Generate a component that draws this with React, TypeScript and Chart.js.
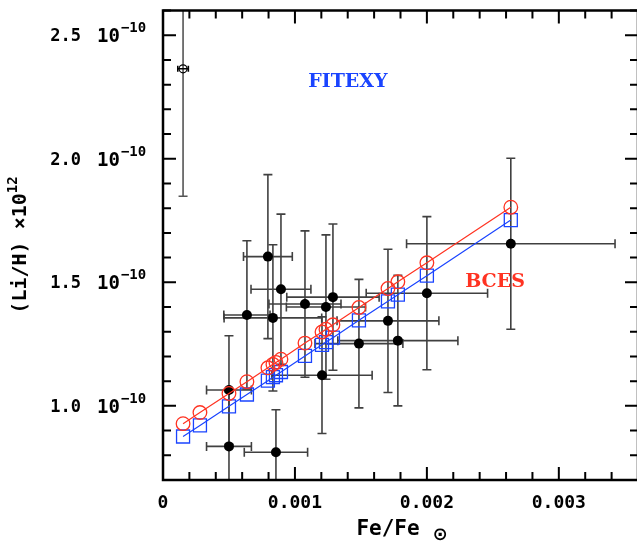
import React, { useEffect, useRef } from "react";
import { Chart, registerables } from "chart.js";

Chart.register(...registerables);

// Observed stars: Fe/Fe(sun) and Li/H (in units of 1e-10)
const feX = [0.0005, 0.0005, 0.000636, 0.000795, 0.000833, 0.000856, 0.000894, 0.001076, 0.001205, 0.001235, 0.001288, 0.001485, 0.001705, 0.00178, 0.002, 0.002636];
const feErr = [0.00017, 0.00017, 0.000175, 0.000185, 0.00037, 0.00024, 0.000227, 0.000273, 0.00038, 0.0003, 0.00035, 0.000333, 0.000386, 0.000455, 0.00046, 0.00079];
const liY = [0.836, 1.064, 1.368, 1.604, 1.356, 0.812, 1.472, 1.412, 1.124, 1.4, 1.44, 1.252, 1.344, 1.264, 1.456, 1.656];
const liErr = [0.22, 0.22, 0.3, 0.332, 0.296, 0.172, 0.304, 0.296, 0.236, 0.292, 0.296, 0.26, 0.29, 0.264, 0.31, 0.346];

// Outlier (open circle)
const outX = [0.000152];
const outXErr = [0.00004];
const outY = [2.364];
const outYErr = [0.516];

// Fitted values
const fitX = [0.000152, 0.00028, 0.0005, 0.000636, 0.000795, 0.000833, 0.000856, 0.000894, 0.001076, 0.001205, 0.001235, 0.001288, 0.001485, 0.001705, 0.00178, 0.002, 0.002636];
const bcesY = [0.928, 0.973, 1.05, 1.098, 1.154, 1.168, 1.176, 1.189, 1.254, 1.299, 1.31, 1.328, 1.398, 1.475, 1.502, 1.579, 1.804];
const fitexyY = [0.876, 0.921, 0.998, 1.046, 1.102, 1.116, 1.124, 1.137, 1.202, 1.247, 1.258, 1.276, 1.346, 1.423, 1.45, 1.527, 1.752];

// Axes
const xMajor = [0, 0.001, 0.002, 0.003];
const xMajorLabels = ["0", "0.001", "0.002", "0.003"];
const yMajor = [1.0, 1.5, 2.0, 2.5];
const yMajorLabels = ["1.0", "1.5", "2.0", "2.5"];
const X_MIN = 0, X_MAX = 0.0036, X_MINOR = 0.0002;
const Y_MIN = 0.7, Y_MAX = 2.6, Y_MINOR = 0.1;

const RED = "#ff3322";
const BLUE = "#1a44ff";
const MONO = '"DejaVu Sans Mono", "Liberation Mono", monospace';
const SERIF = '"DejaVu Serif", "Liberation Serif", serif';

const decor = {
  id: "decor",
  beforeDatasetsDraw(chart: any) {
    const { ctx, chartArea: a, scales } = chart;
    const x = scales.x, y = scales.y;
    ctx.save();
    ctx.beginPath();
    ctx.rect(a.left, a.top, a.right - a.left, a.bottom - a.top);
    ctx.clip();
    const cap = 4.5;
    const bar = (px: number, py: number, xl: number, xh: number, yl: number, yh: number, c: number) => {
      ctx.beginPath();
      ctx.moveTo(px, yl); ctx.lineTo(px, yh);
      ctx.moveTo(px - c, yl); ctx.lineTo(px + c, yl);
      ctx.moveTo(px - c, yh); ctx.lineTo(px + c, yh);
      ctx.moveTo(xl, py); ctx.lineTo(xh, py);
      ctx.moveTo(xl, py - c); ctx.lineTo(xl, py + c);
      ctx.moveTo(xh, py - c); ctx.lineTo(xh, py + c);
      ctx.stroke();
    };
    ctx.strokeStyle = "#404040";
    ctx.lineWidth = 1.6;
    for (let i = 0; i < feX.length; i++) {
      bar(
        x.getPixelForValue(feX[i]), y.getPixelForValue(liY[i]),
        x.getPixelForValue(feX[i] - feErr[i]), x.getPixelForValue(feX[i] + feErr[i]),
        y.getPixelForValue(liY[i] - liErr[i]), y.getPixelForValue(liY[i] + liErr[i]), cap
      );
    }
    for (let i = 0; i < outX.length; i++) {
      const px = x.getPixelForValue(outX[i]), py = y.getPixelForValue(outY[i]);
      ctx.strokeStyle = "#555";
      ctx.beginPath();
      ctx.moveTo(px, y.getPixelForValue(outY[i] - outYErr[i]));
      ctx.lineTo(px, y.getPixelForValue(outY[i] + outYErr[i]));
      const yl = y.getPixelForValue(outY[i] - outYErr[i]);
      ctx.moveTo(px - cap, yl); ctx.lineTo(px + cap, yl);
      ctx.stroke();
      ctx.strokeStyle = "#000";
      const xl = x.getPixelForValue(outX[i] - outXErr[i]), xh = x.getPixelForValue(outX[i] + outXErr[i]);
      ctx.beginPath();
      ctx.moveTo(xl, py); ctx.lineTo(xh, py);
      ctx.moveTo(xl, py - 3); ctx.lineTo(xl, py + 3);
      ctx.moveTo(xh, py - 3); ctx.lineTo(xh, py + 3);
      ctx.stroke();
    }
    ctx.restore();
  },
  afterDraw(chart: any) {
    const { ctx, chartArea: a, scales } = chart;
    const x = scales.x, y = scales.y;
    ctx.save();
    ctx.strokeStyle = "#000";
    ctx.lineCap = "butt";
    // ticks
    ctx.lineWidth = 2;
    const nx = Math.round((X_MAX - X_MIN) / X_MINOR);
    for (let i = 0; i <= nx; i++) {
      const v = X_MIN + i * X_MINOR;
      const px = x.getPixelForValue(v);
      const L = i % 5 === 0 ? 13 : 8;
      ctx.beginPath();
      ctx.moveTo(px, a.bottom); ctx.lineTo(px, a.bottom - L);
      ctx.moveTo(px, a.top); ctx.lineTo(px, a.top + L);
      ctx.stroke();
    }
    const ny = Math.round((Y_MAX - Y_MIN) / Y_MINOR);
    for (let i = 0; i <= ny; i++) {
      const v = Y_MIN + i * Y_MINOR;
      const py = y.getPixelForValue(v);
      const major = Math.abs(v * 2 - Math.round(v * 2)) < 1e-6;
      const L = major ? 13 : 8;
      ctx.beginPath();
      ctx.moveTo(a.left, py); ctx.lineTo(a.left + L, py);
      ctx.moveTo(a.right, py); ctx.lineTo(a.right - L, py);
      ctx.stroke();
    }
    // frame
    ctx.lineWidth = 2.5;
    ctx.strokeRect(a.left, a.top, a.right - a.left, a.bottom - a.top);

    // x tick labels
    ctx.fillStyle = "#000";
    ctx.font = `bold 18px ${MONO}`;
    ctx.textAlign = "center";
    ctx.textBaseline = "alphabetic";
    xMajor.forEach((v, i) => {
      ctx.fillText(xMajorLabels[i], x.getPixelForValue(v), 508);
    });
    // y tick labels
    yMajor.forEach((v, i) => {
      const py = y.getPixelForValue(v);
      ctx.font = `bold 17px ${MONO}`;
      ctx.textAlign = "right";
      ctx.fillText(yMajorLabels[i], 81, py + 6);
      ctx.textAlign = "left";
      ctx.font = `bold 19px ${MONO}`;
      ctx.fillText("10", 97, py + 7);
      const w = ctx.measureText("10").width;
      ctx.font = `bold 14px ${MONO}`;
      ctx.fillText("\u221210", 97 + w + 1, py - 3);
    });
    // axis titles
    ctx.font = `bold 21px ${MONO}`;
    ctx.textAlign = "left";
    const t1 = "Fe/Fe";
    const w1 = ctx.measureText(t1).width;
    ctx.fillText(t1, 388 - w1 / 2, 535);
    ctx.font = `bold 18px "DejaVu Sans", sans-serif`;
    ctx.textAlign = "center";
    ctx.fillText("\u2299", 440, 540);

    ctx.save();
    ctx.translate(26, 245);
    ctx.rotate(-Math.PI / 2);
    ctx.font = `bold 20px ${MONO}`;
    const m1 = "(Li/H) \u00d710";
    const mw = ctx.measureText(m1).width;
    ctx.font = `bold 14px ${MONO}`;
    const sw = ctx.measureText("12").width;
    const total = mw + sw;
    ctx.textAlign = "left";
    ctx.font = `bold 20px ${MONO}`;
    ctx.fillText(m1, -total / 2, 0);
    ctx.font = `bold 14px ${MONO}`;
    ctx.fillText("12", -total / 2 + mw, -9);
    ctx.restore();

    // annotations
    ctx.font = `bold 19px ${SERIF}`;
    ctx.textAlign = "center";
    ctx.fillStyle = BLUE;
    ctx.fillText("FITEXY", 348, 87);
    ctx.fillStyle = RED;
    ctx.fillText("BCES", 495, 287);
    ctx.restore();
  },
};

export default function App() {
  const ref = useRef<HTMLCanvasElement | null>(null);
  useEffect(() => {
    if (!ref.current) return;
    const pts = (xs: number[], ys: number[]) => xs.map((v, i) => ({ x: v, y: ys[i] }));
    const chart = new Chart(ref.current, {
      type: "scatter",
      data: {
        datasets: [
          {
            label: "BCES",
            data: pts(fitX, bcesY),
            showLine: true,
            borderColor: RED,
            borderWidth: 1.2,
            pointStyle: "circle",
            pointRadius: 6.8,
            pointBorderWidth: 1.3,
            pointBorderColor: RED,
            pointBackgroundColor: "rgba(0,0,0,0)",
            order: 1,
          },
          {
            label: "FITEXY",
            data: pts(fitX, fitexyY),
            showLine: true,
            borderColor: BLUE,
            borderWidth: 1.2,
            pointStyle: "rect",
            pointRadius: 9.2,
            pointBorderWidth: 1.3,
            pointBorderColor: BLUE,
            pointBackgroundColor: "rgba(0,0,0,0)",
            order: 2,
          },
          {
            label: "stars",
            data: pts(feX, liY),
            pointStyle: "circle",
            pointRadius: 5,
            pointBorderWidth: 0,
            pointBackgroundColor: "#000",
            pointBorderColor: "#000",
            order: 3,
          },
          {
            label: "outlier",
            data: pts(outX, outY),
            pointStyle: "circle",
            pointRadius: 4,
            pointBorderWidth: 1.2,
            pointBorderColor: "#000",
            pointBackgroundColor: "rgba(0,0,0,0)",
            order: 3,
          },
        ],
      },
      options: {
        responsive: false,
        animation: false,
        devicePixelRatio: 1,
        layout: { padding: { left: 163, top: 5, right: 22, bottom: 64 } },
        plugins: { legend: { display: false }, tooltip: { enabled: false } },
        scales: {
          x: { type: "linear", min: X_MIN, max: X_MAX, display: false },
          y: { type: "linear", min: Y_MIN, max: Y_MAX, display: false },
        },
      },
      plugins: [decor],
    });
    return () => chart.destroy();
  }, []);
  return (
    <div style={{ position: "fixed", left: 0, top: 0, width: 637, height: 544, overflow: "hidden", background: "#fff" }}>
      <canvas ref={ref} width={660} height={544} style={{ width: 660, height: 544, display: "block" }} />
    </div>
  );
}
